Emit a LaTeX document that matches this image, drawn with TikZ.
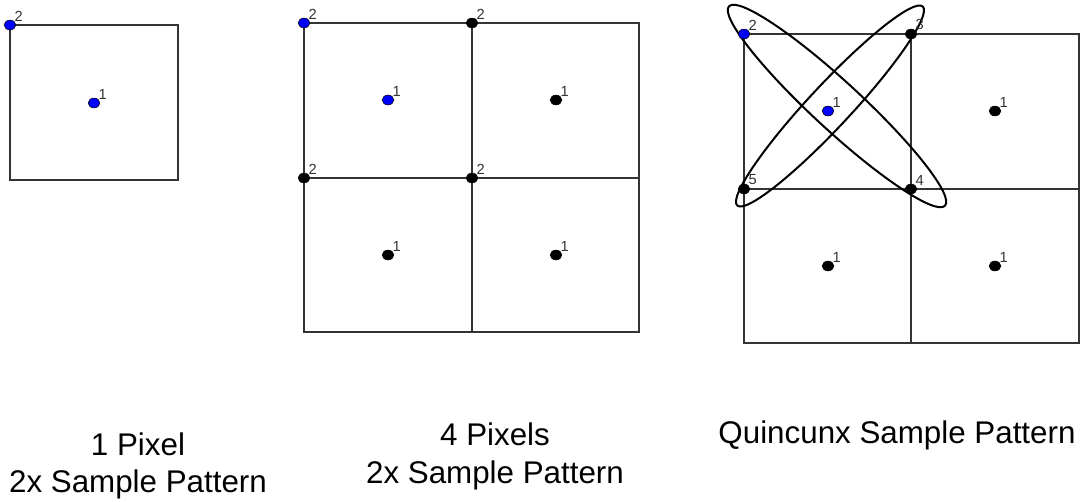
\documentclass[tikz,border=0pt]{standalone}
\usepackage{fontspec}
\setmainfont{Liberation Sans}
\usepackage{tikz}
\usetikzlibrary{shapes.geometric}

\begin{document}
\begin{tikzpicture}[x=0.75pt,y=-0.75pt,
  gridline/.style={draw=black!80,line width=0.9pt},
  ringline/.style={draw=black,line width=1.5pt},
  sampledot/.style={ellipse,draw=black,fill=black,line width=0.4pt,minimum width=8.8pt,minimum height=7.4pt,inner sep=0pt},
  bluedot/.style={sampledot,fill=blue},
  numlbl/.style={font=\fontsize{11}{13}\selectfont,text=black!80,inner sep=0pt},
  caption/.style={font=\fontsize{23.5}{28}\selectfont,anchor=base,inner sep=0pt}]
\useasboundingbox (0,0) rectangle (1081,502);
% one pixel
\draw[gridline] (10,25) rectangle (178,180);
\node[bluedot,label={[numlbl]north east:2}] (pa2) at (10,25) {};
\node[bluedot,label={[numlbl]north east:1}] (pa1) at (94,103) {};
% four pixels
\draw[gridline] (304,23) rectangle (639,332);
\draw[gridline] (472,23) -- (472,332);
\draw[gridline] (304,178) -- (639,178);
\node[bluedot,label={[numlbl]north east:2}] (pb2a) at (304,23) {};
\node[sampledot,label={[numlbl]north east:2}] (pb2b) at (472,23) {};
\node[sampledot,label={[numlbl]north east:2}] (pb2c) at (304,178) {};
\node[sampledot,label={[numlbl]north east:2}] (pb2d) at (472,178) {};
\node[bluedot,label={[numlbl]north east:1}] (pb1a) at (388,100) {};
\node[sampledot,label={[numlbl]north east:1}] (pb1b) at (556,100) {};
\node[sampledot,label={[numlbl]north east:1}] (pb1c) at (388,255) {};
\node[sampledot,label={[numlbl]north east:1}] (pb1d) at (556,255) {};
% quincunx
\draw[gridline] (744,34) rectangle (1079,343);
\draw[gridline] (911,34) -- (911,343);
\draw[gridline] (744,189) -- (1079,189);
\draw[ringline,rotate around={-42.7:(837,106)}] (837,106) ellipse [x radius=147,y radius=24];
\draw[ringline,rotate around={47:(830,106)}] (830,106) ellipse [x radius=136,y radius=21];
\node[bluedot,label={[numlbl]north east:2}] (pc2) at (744,34) {};
\node[sampledot,label={[numlbl]north east:3}] (pc3) at (911,34) {};
\node[sampledot,label={[numlbl]north east:4}] (pc4) at (911,189) {};
\node[sampledot,label={[numlbl]north east:5}] (pc5) at (744,189) {};
\node[bluedot,label={[numlbl]north east:1}] (pc1a) at (828,111) {};
\node[sampledot,label={[numlbl]north east:1}] (pc1b) at (995,111) {};
\node[sampledot,label={[numlbl]north east:1}] (pc1c) at (828,266) {};
\node[sampledot,label={[numlbl]north east:1}] (pc1d) at (995,266) {};
% captions
\node[caption] (capa1) at (138,455) {1 Pixel};
\node[caption] (capa2) at (138,492) {2x Sample Pattern};
\node[caption] (capb1) at (495,445) {4 Pixels};
\node[caption] (capb2) at (495,483) {2x Sample Pattern};
\node[caption] (capc1) at (897,443) {Quincunx Sample Pattern};
\end{tikzpicture}
\end{document}
